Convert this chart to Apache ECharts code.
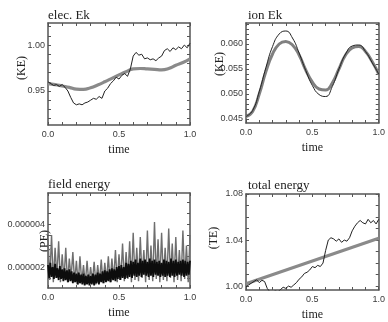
<!DOCTYPE html>
<html><head><meta charset="utf-8">
<script src="https://cdn.jsdelivr.net/npm/echarts@6/dist/echarts.min.js"></script>
<style>html,body{margin:0;padding:0;background:#fff}#c{width:388px;height:322px}</style>
</head><body><div id="c"></div>
<script>
// ---- shared time grids ----
const tSmooth = [0,0.05,0.1,0.15,0.2,0.25,0.3,0.35,0.4,0.45,0.5,0.55,0.6,0.65,0.7,0.75,0.8,0.85,0.9,0.95,1.0];
const tNoisy = [0,0.02,0.04,0.06,0.08,0.1,0.12,0.14,0.16,0.18,0.2,0.22,0.24,0.26,0.28,0.3,0.32,0.34,0.36,0.38,0.4,0.42,0.44,0.46,0.48,0.5,0.52,0.54,0.56,0.58,0.6,0.62,0.64,0.66,0.68,0.7,0.72,0.74,0.76,0.78,0.8,0.82,0.84,0.86,0.88,0.9,0.92,0.94,0.96,0.98,1.0];

// ---- elec. Ek ----
const elecSmooth = [0.958,0.957,0.9555,0.954,0.952,0.9517,0.9535,0.9565,0.960,0.9638,0.9675,0.971,0.974,0.9745,0.974,0.9735,0.973,0.9745,0.978,0.981,0.985];
const elecNoisy = [0.960,0.958,0.956,0.957,0.955,0.957,0.954,0.950,0.943,0.937,0.935,0.936,0.935,0.937,0.938,0.940,0.942,0.941,0.944,0.942,0.950,0.953,0.958,0.961,0.965,0.963,0.967,0.969,0.966,0.974,0.988,0.992,0.989,0.990,0.985,0.986,0.984,0.985,0.983,0.986,0.988,0.994,0.996,0.993,0.997,0.995,0.998,0.996,1.000,0.997,1.002];

// ---- ion Ek ----
const ionThick = [0.0455,0.0465,0.0500,0.0545,0.0580,0.0600,0.0605,0.0598,0.0578,0.0548,0.0524,0.0510,0.0508,0.0522,0.0550,0.0578,0.0592,0.0595,0.0585,0.0565,0.0540];
const ionThin  = [0.0455,0.0467,0.0505,0.0553,0.0595,0.0620,0.0626,0.0612,0.0582,0.0547,0.0517,0.0499,0.0495,0.0515,0.0550,0.0580,0.0596,0.0598,0.0585,0.0563,0.0540];

// ---- field energy (values in units of 1e-6) ----
const fieldUnit = 1e-6;
const fieldGray = [3.3,1.4,3.5,1.3,2.9,1.5,3.2,1.3,2.6,1.4,2.9,1.3,2.4,1.5,2.7,1.3,2.3,1.2,2.5,1.3,2.1,1.2,2.3,1.25,2.0,1.3,2.25,1.2,2.1,1.3,2.35,1.25,2.2,1.35,2.5,1.3,2.4,1.4,2.8,1.3,2.6,1.4,3.1,1.35,2.7,1.45,3.2,1.3,3.6,1.4,2.9,1.35,3.4,1.5,2.8,1.3,3.7,1.4,3.0,1.35,4.1,1.45,3.3,1.3,3.6,1.4,2.9,1.35,3.8,1.5,3.1,1.3,3.4,1.4,2.8,1.35,3.7,1.45,3.0,1.3,3.5];
const fieldBlack = [2.1,1.5,2.2,1.55,2.0,1.45,2.15,1.5,1.95,1.4,2.05,1.45,1.9,
 1.35,1.95,1.4,1.85,1.3,1.9,1.35,1.8,1.25,1.75,1.3,1.7,
 1.2,1.75,1.25,1.65,1.2,1.7,1.15,1.6,1.2,1.65,1.15,1.6,
 1.2,1.7,1.15,1.65,1.25,1.75,1.2,1.7,1.3,1.8,1.25,1.85,
 1.3,1.8,1.35,1.9,1.3,1.95,1.4,1.9,1.35,2.0,1.45,2.05,
 1.4,2.1,1.5,2.0,1.45,2.2,1.5,2.15,1.55,2.3,1.5,2.25,
 1.6,2.35,1.55,2.2,1.6,2.4,1.55,2.3,1.65,2.35,1.6,2.25,
 1.55,2.4,1.6,2.3,1.55,2.35,1.65,2.25,1.6,2.3,1.55,2.2,
 1.6,2.35,1.55,2.3,1.6,2.25,1.55,2.4,1.6,2.3,1.55,2.35,
 1.6,2.25,1.65,2.3,1.6,2.35,1.55,2.3,1.6,2.25,1.65,2.3];

// ---- total energy ----
const tTotalSmooth = [0,1.0];
const totalSmooth = [1.002,1.0415];
const totalNoisy = [0.9995,1.001,1.0025,1.004,1.0055,1.003,1.005,1.004,0.998,0.995,0.9945,0.996,0.995,0.997,0.999,0.998,1.000,0.999,1.001,1.003,1.006,1.008,1.011,1.012,1.014,1.017,1.016,1.018,1.017,1.020,1.031,1.040,1.042,1.041,1.039,1.041,1.038,1.040,1.039,1.042,1.048,1.052,1.055,1.057,1.055,1.054,1.058,1.055,1.057,1.054,1.058];

// ---- ticks and labels ----
const xTicks = [0,0.1,0.2,0.3,0.4,0.5,0.6,0.7,0.8,0.9,1.0];
const xLabels = [0,0.5,1.0];
const elecYTicks = [0.92,0.93,0.94,0.95,0.96,0.97,0.98,0.99,1.00,1.01,1.02];
const elecYLabels = [0.95,1.00];
const ionYTicks = [0.045,0.046,0.047,0.048,0.049,0.050,0.051,0.052,0.053,0.054,0.055,0.056,0.057,0.058,0.059,0.060,0.061,0.062,0.063,0.064];
const ionYLabels = [0.045,0.050,0.055,0.060];
const fieldYTicks = [1.5e-6,2e-6,2.5e-6,3e-6,3.5e-6,4e-6,4.5e-6,5e-6];
const fieldYLabels = [2e-6,4e-6];
const totalYTicks = [1.00,1.01,1.02,1.03,1.04,1.05,1.06,1.07,1.08];
const totalYLabels = [1.00,1.04,1.08];

const titles = ['elec. Ek','ion Ek','field energy','total energy'];
const yNames = ['(KE)','(KE)','(PE)','(TE)'];

const zip = (xs, ys, k) => ys.map((v,i)=>[xs[i], k ? v*k : v]);
const zipIdx = (ys, k) => ys.map((v,i)=>[i/(ys.length-1), v*k]);

const grids = [
  {left:48, top:23, width:142, height:102},
  {left:246, top:23, width:137, height:100},
  {left:48, top:193, width:142, height:95},
  {left:246, top:194, width:137, height:97}
];
const yRanges = [[0.913,1.024],[0.0442,0.0642],[1.03e-6,5.45e-6],[0.9966,1.08]];
const yTickSets = [elecYTicks, ionYTicks, fieldYTicks, totalYTicks];
const yLabelSets = [elecYLabels, ionYLabels, fieldYLabels, totalYLabels];
const yFmt = [v=>v.toFixed(2), v=>v.toFixed(3), v=>v.toFixed(6), v=>v.toFixed(2)];

const axCol = '#555';
const lblStyle = {fontSize:9, color:'#3a3a3a', fontFamily:'Liberation Sans'};
const xAxes = [], yAxes = [];
grids.forEach((g,i)=>{
  xAxes.push({type:'value', gridIndex:i, min:0, max:1, position:'bottom',
    axisLine:{show:true, onZero:false, lineStyle:{color:axCol, width:1.5}},
    axisTick:{show:true, inside:true, length:3, customValues:xTicks, lineStyle:{color:axCol}},
    axisLabel:Object.assign({customValues:xLabels, formatter:v=>Number(v).toFixed(1), margin:5}, lblStyle),
    splitLine:{show:false},
    name:'time', nameLocation:'middle', nameGap:19,
    nameTextStyle:{fontFamily:'Liberation Serif', fontSize:12, color:'#222'}});
  xAxes.push({type:'value', gridIndex:i, min:0, max:1, position:'top',
    axisLine:{show:true, onZero:false, lineStyle:{color:axCol, width:1.5}},
    axisTick:{show:true, inside:true, length:3, customValues:xTicks, lineStyle:{color:axCol}},
    axisLabel:{show:false}, splitLine:{show:false}});
  yAxes.push({type:'value', gridIndex:i, min:yRanges[i][0], max:yRanges[i][1], position:'left',
    axisLine:{show:true, onZero:false, lineStyle:{color:axCol, width:1.5}},
    axisTick:{show:true, inside:true, length:3, customValues:yTickSets[i], lineStyle:{color:axCol}},
    axisLabel:Object.assign({customValues:yLabelSets[i], formatter:yFmt[i], margin:3}, lblStyle),
    splitLine:{show:false}});
  yAxes.push({type:'value', gridIndex:i, min:yRanges[i][0], max:yRanges[i][1], position:'right',
    axisLine:{show:true, onZero:false, lineStyle:{color:axCol, width:1.5}},
    axisTick:{show:true, inside:true, length:3, customValues:yTickSets[i], lineStyle:{color:axCol}},
    axisLabel:{show:false}, splitLine:{show:false}});
});

function line(gi, data, color, width, smooth, z){
  return {type:'line', xAxisIndex:gi*2, yAxisIndex:gi*2, data:data, showSymbol:false, symbol:'none',
    smooth:smooth, lineStyle:{color:color, width:width}, z:z||2, animation:false, clip:true};
}
const series = [
  line(0, zip(tSmooth, elecSmooth), '#8a8a8a', 3.2, true, 2),
  line(0, zip(tNoisy, elecNoisy), '#222', 1, false, 3),
  line(1, zip(tSmooth, ionThick), '#808080', 3, true, 2),
  line(1, zip(tSmooth, ionThin), '#222', 1, true, 3),
  line(2, zipIdx(fieldGray, fieldUnit), '#6e6e6e', 1.4, false, 2),
  line(2, zipIdx(fieldBlack, fieldUnit), '#0d0d0d', 1.8, false, 3),
  line(3, zip(tTotalSmooth, totalSmooth), '#8a8a8a', 3.2, false, 2),
  line(3, zip(tNoisy, totalNoisy), '#222', 1, false, 3)
];

const titleComps = [[48,9],[248,9],[48,178],[248,179]].map((p,i)=>({
  text:titles[i], left:p[0], top:p[1], padding:0,
  textStyle:{fontFamily:'Liberation Serif', fontSize:13, fontWeight:'normal', color:'#222'}}));

const yNamePos = [[22,68],[220,64],[45,241],[214,238]];
const graphics = yNamePos.map((p,i)=>({type:'text', x:p[0], y:p[1], rotation:Math.PI/2,
  style:{text:yNames[i], fontFamily:'Liberation Serif', fontSize:12, fill:'#222', align:'center', verticalAlign:'middle'}}));

const chart = echarts.init(document.getElementById('c'), null, {renderer:'canvas'});
chart.setOption({animation:false, backgroundColor:'#fff', title:titleComps, grid:grids,
  xAxis:xAxes, yAxis:yAxes, series:series, graphic:graphics});
</script></body></html>
